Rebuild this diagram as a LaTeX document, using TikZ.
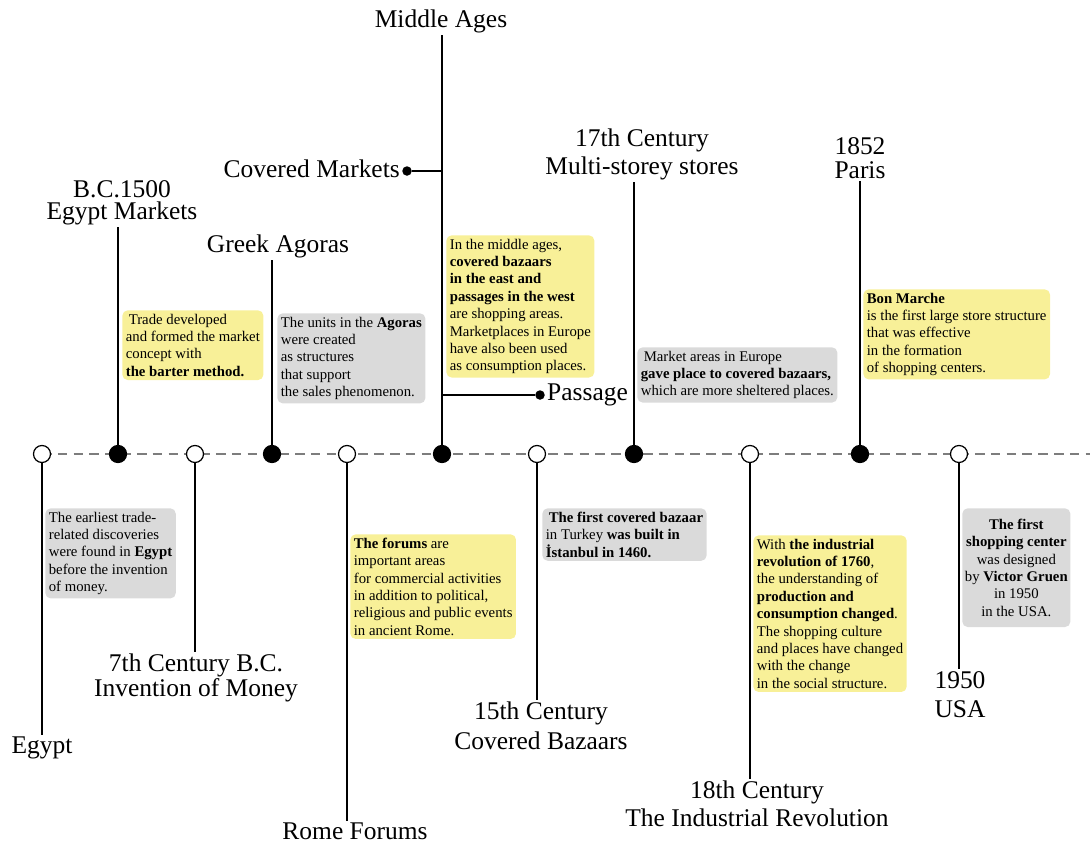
\documentclass[tikz,border=0pt]{standalone}
\usepackage{fontspec}
\setmainfont{Liberation Serif}
\usetikzlibrary{
  positioning,
  calc,
  backgrounds
}
\definecolor{notebg}{RGB}{248,240,152}
\definecolor{factbg}{RGB}{218,218,218}
\definecolor{axisgray}{RGB}{125,125,125}

\begin{document}
\begin{tikzpicture}[
  x=0.02cm, y=-0.02cm,
  era/.style={
    circle,
    draw=black,
    line width=0.7pt,
    fill=white,
    inner sep=0pt,
    minimum size=0.34cm
  },
  eraon/.style={era, fill=black},
  tick/.style={line width=0.9pt, black},
  branchdot/.style={
    circle,
    fill=black,
    inner sep=0pt,
    minimum size=0.19cm
  },
  title/.style={
    font=\fontsize{14.5}{15.5}\selectfont,
    align=center,
    inner sep=1pt
  },
  note/.style={
    rectangle,
    rounded corners=3pt,
    fill=notebg,
    anchor=north west,
    align=left,
    inner xsep=2pt,
    inner ysep=2pt,
    font=\fontsize{8.4}{9.9}\selectfont
  },
  fact/.style={note, fill=factbg},
  axis/.style={
    axisgray,
    line width=1.1pt,
    dash pattern=on 5.5pt off 3.5pt
  }
]
\useasboundingbox (0,0) rectangle (1090,843);

% ------------------------------------------------------------------
% Time axis
% ------------------------------------------------------------------
\node[era]   (egypt)    at (42,454)  {};
\node[eraon] (bc1500)   at (118,454) {};
\node[era]   (money)    at (195,454) {};
\node[eraon] (agora)    at (272,454) {};
\node[era]   (forum)    at (347,454) {};
\node[eraon] (middle)   at (442,454) {};
\node[era]   (bazaar)   at (537,454) {};
\node[eraon] (multi)    at (634,454) {};
\node[era]   (industry) at (750,454) {};
\node[eraon] (paris)    at (860,454) {};
\node[era]   (usa)      at (959,454) {};

\coordinate (axisend) at (1090,454);

\begin{scope}[on background layer]
  \draw[axis] (egypt.center) -- (axisend);
\end{scope}

% ------------------------------------------------------------------
% Upper labels
% ------------------------------------------------------------------
\node[title, anchor=south] (bclab) at (122,227)
  {B.C.1500\\[-3pt]Egypt Markets};
\node[title, anchor=south] (agoralab) at (278,260) {Greek Agoras};
\node[title, anchor=south] (middlelab) at (441,35) {Middle Ages};
\node[title, anchor=south] (multilab) at (642,182)
  {17th Century\\[0.5pt]Multi-storey stores};
\node[title, anchor=south] (parislab) at (860,181)
  {1852\\[-1.5pt]Paris};

\draw[tick] (bc1500) -- (bc1500 |- bclab.south);
\draw[tick] (agora) -- (agora |- agoralab.south);
\draw[tick] (middle) -- (middle |- middlelab.south);
\draw[tick] (multi) -- (multi |- multilab.south);
\draw[tick] (paris) -- (paris |- parislab.south);

% branches of the Middle Ages
\node[branchdot] (cmdot) at (407,171) {};
\node[title, anchor=east, yshift=1pt] (cmlab) at (cmdot.west) {Covered Markets};
\draw[tick] (cmdot) -- (middle |- cmdot);

\node[branchdot] (psdot) at (540,395) {};
\node[title, anchor=west] (pslab) at (psdot.east) {Passage};
\draw[tick] (psdot) -- (middle |- psdot);

% ------------------------------------------------------------------
% Lower labels
% ------------------------------------------------------------------
\node[title, anchor=north] (egyptlab) at (42,735) {Egypt};
\node[title, anchor=north] (moneylab) at (196,652)
  {7th Century B.C.\\[-1.5pt]Invention of Money};
\node[title, anchor=north] (forumlab) at (355,821) {Rome Forums};
\node[title, anchor=north] (bazaarlab) at (541,700)
  {15th Century\\[1.5pt]Covered Bazaars};
\node[title, anchor=north] (industrylab) at (757,779)
  {18th Century\\[0.5pt]The Industrial Revolution};
\node[title, anchor=north] (usalab) at (960,669)
  {1950\\[1.5pt]USA};

\draw[tick] (egypt) -- (egypt |- egyptlab.north);
\draw[tick] (money) -- (money |- moneylab.north);
\draw[tick] (forum) -- (forum |- forumlab.north);
\draw[tick] (bazaar) -- (bazaar |- bazaarlab.north);
\draw[tick] (industry) -- (industry |- industrylab.north);
\draw[tick] (usa) -- (usa |- usalab.north);

% ------------------------------------------------------------------
% Notes above the axis
% ------------------------------------------------------------------
\node[note] (tradenote) at (122,310)
  {\hspace*{0.2em}Trade developed\\and formed the market\\concept with\\
   \textbf{the barter method.}};
\node[fact] (agorafact) at (277,313)
  {The units in the \textbf{Agoras}\\were created\\as structures\\
   that support\\the sales phenomenon.};
\node[note] (middlenote) at (446,235)
  {In the middle ages,\\\textbf{covered bazaars}\\\textbf{in the east and}\\
   \textbf{passages in the west}\\are shopping areas.\\
   Marketplaces in Europe\\have also been used\\as consumption places.};
\node[fact] (marketfact) at (637,347)
  {\hspace*{0.2em}Market areas in Europe\\
   \textbf{gave place to covered bazaars,}\\
   which are more sheltered places.};
\node[note] (marchenote) at (863,289)
  {\textbf{Bon Marche}\\is the first large store structure\\
   that was effective\\in the formation\\of shopping centers.};

% ------------------------------------------------------------------
% Notes below the axis
% ------------------------------------------------------------------
\node[fact] (egyptfact) at (45,508)
  {The earliest trade-\\related discoveries\\were found in \textbf{Egypt}\\
   before the invention\\of money.};
\node[note] (forumnote) at (350,534)
  {\textbf{The forums} are\\important areas\\for commercial activities\\
   in addition to political,\\religious and public events\\in ancient Rome.};
\node[fact] (bazaarfact) at (542,508)
  {\hspace*{0.2em}\textbf{The first covered bazaar}\\
   in Turkey \textbf{was built in}\\\textbf{İstanbul in 1460.}};
\node[note] (industrynote) at (753,535)
  {With \textbf{the industrial}\\\textbf{revolution of 1760},\\
   the understanding of\\\textbf{production and}\\
   \textbf{consumption changed}.\\The shopping culture\\
   and places have changed\\with the change\\in the social structure.};
\node[fact, align=center, inner ysep=6pt, inner xsep=1.5pt] (usafact)
  at (962,508)
  {\textbf{The first}\\\textbf{shopping center}\\was designed\\
   by \textbf{Victor Gruen}\\in 1950\\in the USA.};

\end{tikzpicture}
\end{document}
